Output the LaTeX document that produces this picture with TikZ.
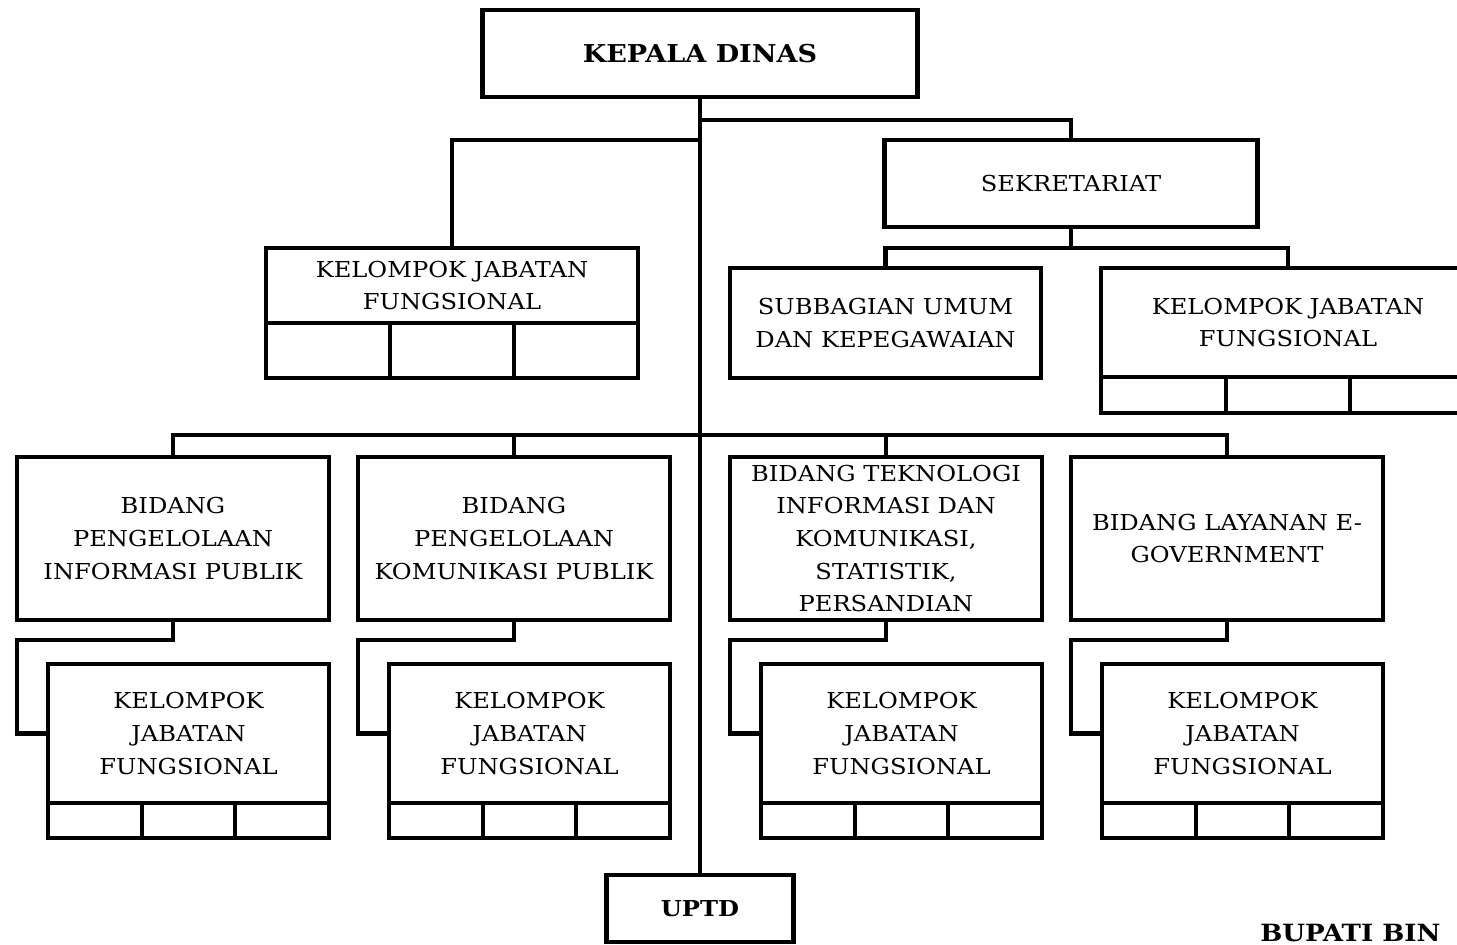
\documentclass[tikz,border=0pt]{standalone}
\usepackage{fontspec}
\setmainfont{DejaVu Serif}[FakeStretch=1.1]
\usepackage{tikz}
\usetikzlibrary{positioning,calc}
\newcommand{\jfcells}[3]{%
  \node[cell, minimum width=#2, minimum height=#3, below right=0pt and 0pt of #1.south west] (#1c1) {};
  \node[cell, minimum width=#2, minimum height=#3, right=0pt of #1c1] (#1c2) {};
  \node[cell, minimum width=#2, minimum height=#3, right=0pt of #1c2] (#1c3) {};
}

\begin{document}
\begin{tikzpicture}[
  box/.style={draw, line width=2.3pt, outer sep=0pt, inner sep=1pt, align=center, font=\fontsize{12.5}{18.5}\selectfont},
  head/.style={box, font=\fontsize{14}{17}\selectfont\bfseries},
  bidang/.style={box, minimum width=6.24cm, minimum height=3.26cm},
  jf/.style={box, minimum width=5.62cm, minimum height=2.78cm},
  cell/.style={draw, line width=2.3pt, outer sep=0pt, inner sep=0pt},
  conn/.style={line width=2.3pt},
  node distance=0.6cm
]
  \useasboundingbox (0,0) rectangle (29.14,-18.9);
  \clip (0,0) rectangle (29.14,-18.9);

  \node[head, minimum width=8.7cm, minimum height=1.74cm] (kadis) at (14,-1.07) {KEPALA DINAS};
  \node[box, below=0.86cm of kadis, xshift=7.42cm, minimum width=7.46cm, minimum height=1.74cm] (sekre) {SEKRETARIAT};
  \node[box, below=3.02cm of kadis, xshift=-4.96cm, minimum width=7.44cm, minimum height=1.5cm] (jfTop) {KELOMPOK JABATAN\\FUNGSIONAL};
  \jfcells{jfTop}{2.48cm}{1.1cm}

  \node[box, below=0.82cm of sekre, xshift=-3.71cm, minimum width=6.22cm, minimum height=2.2cm] (sub) {SUBBAGIAN UMUM\\DAN KEPEGAWAIAN};
  \node[box, below=0.82cm of sekre, xshift=4.34cm, minimum width=7.48cm, minimum height=2.18cm] (jfSek) {KELOMPOK JABATAN\\FUNGSIONAL};
  \jfcells{jfSek}{2.493cm}{0.72cm}

  \node[bidang, below=7.2cm of kadis, xshift=-10.54cm] (bidA) {BIDANG\\PENGELOLAAN\\INFORMASI PUBLIK};
  \node[bidang, right=0.58cm of bidA] (bidB) {BIDANG\\PENGELOLAAN\\KOMUNIKASI PUBLIK};
  \node[bidang, right=1.2cm of bidB] (bidC) {BIDANG TEKNOLOGI\\INFORMASI DAN\\KOMUNIKASI,\\STATISTIK,\\PERSANDIAN};
  \node[bidang, right=0.58cm of bidC] (bidD) {BIDANG LAYANAN E-\\GOVERNMENT};

  \foreach \b in {A,B,C,D} {
    \node[jf, below=0.88cm of bid\b, xshift=0.31cm] (jf\b) {KELOMPOK\\JABATAN\\FUNGSIONAL};
    \jfcells{jf\b}{1.873cm}{0.7cm}
  }

  \node[head, below=15.56cm of kadis, minimum width=3.74cm, minimum height=1.34cm, font=\fontsize{12.5}{15}\selectfont\bfseries] (uptd) {UPTD};

  \node[anchor=base west, inner sep=0pt, font=\fontsize{13.5}{16}\selectfont\bfseries] (bupati) at (25.2,-18.83) {BUPATI BIN};

  \coordinate (sbus) at ([yshift=-0.42cm]sekre.south);
  \coordinate (bus) at ($(bidA.north -| kadis.south)+(0,0.44)$);

  \draw[conn] (kadis.south) -- (uptd.north);
  \draw[conn] ([yshift=-0.46cm]kadis.south) -| (sekre.north);
  \draw[conn] ([yshift=-0.86cm]kadis.south) -| (jfTop.north);
  \draw[conn] (sekre.south) -- (sbus);
  \draw[conn] (sub.north) |- (sbus) -| (jfSek.north);
  \draw[conn] (bidA.north) |- (bus) -| (bidD.north);
  \draw[conn] (bidB.north) |- (bus);
  \draw[conn] (bidC.north) |- (bus);
  \foreach \b in {A,B,C,D}
    \draw[conn] (bid\b.south) |- ([yshift=-0.4cm]bid\b.south west) |- (jf\b.west);
\end{tikzpicture}
\end{document}
